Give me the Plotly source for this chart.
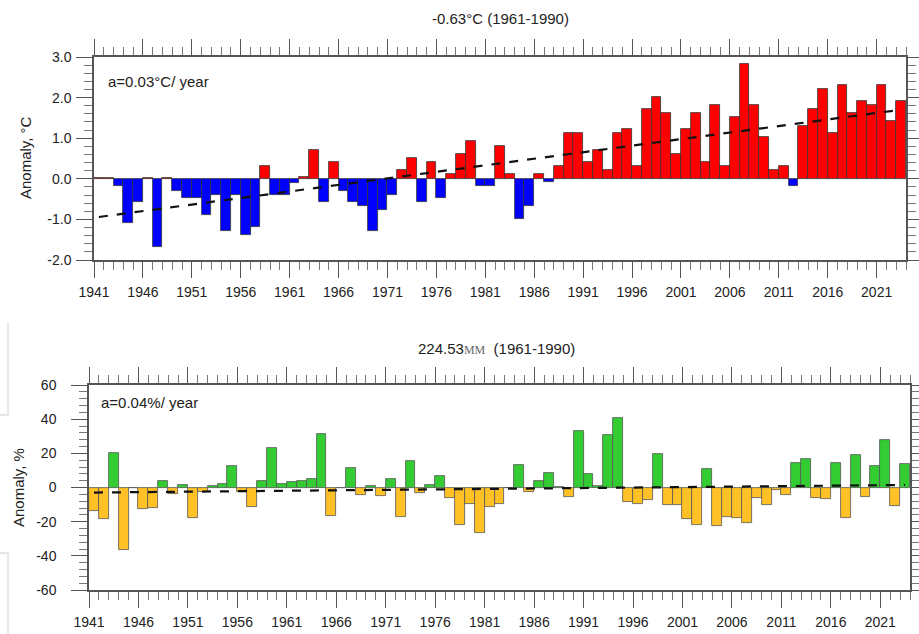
import numpy as np
import plotly.graph_objects as go

W, H = 919, 634

years = list(range(1941, 2024))

temp_anom = [0.02, 0.02, -0.18, -1.08, -0.58, 0.02, -1.69, 0.02, -0.29, -0.48,
             -0.48, -0.88, -0.39, -1.29, -0.39, -1.38, -1.19, 0.32, -0.39, -0.39,
             -0.10, 0.04, 0.72, -0.58, 0.42, -0.29, -0.58, -0.67, -1.29, -0.78,
             -0.39, 0.21, 0.52, -0.58, 0.42, -0.48, 0.11, 0.62, 0.92, -0.18,
             -0.18, 0.82, 0.11, -0.98, -0.67, 0.11, -0.08, 0.32, 1.12, 1.12,
             0.42, 0.71, 0.21, 1.12, 1.22, 0.31, 1.72, 2.02, 1.62, 0.62,
             1.22, 1.63, 0.41, 1.81, 0.31, 1.52, 2.82, 1.81, 1.02, 0.21,
             0.31, -0.18, 1.31, 1.72, 2.22, 1.12, 2.32, 1.62, 1.92, 1.81,
             2.32, 1.42, 1.92]

prec_anom = [-13.7, -18.6, 20.2, -36.8, 0.0, -12.7, -12.1, 4.1, -3.7, 1.4,
             -17.6, -2.9, 0.8, 2.2, 12.5, -2.5, -11.2, 4.1, 22.9, 2.0,
             3.1, 4.1, 4.9, 31.5, -16.4, 0.0, 11.2, -4.5, 1.0, -4.7,
             4.9, -17.0, 15.5, -3.1, 1.4, 6.7, -5.9, -21.7, -9.8, -26.6,
             -11.4, -9.4, -0.5, 13.3, -2.9, 3.7, 8.4, 0.3, -5.7, 33.1,
             8.0, 1.0, 30.5, 40.7, -8.2, -9.4, -7.2, 19.8, -10.0, -10.4,
             -18.6, -21.9, 10.6, -22.3, -17.4, -18.0, -20.9, -6.1, -10.0, -1.2,
             -4.5, 14.5, 16.6, -6.1, -6.8, 14.5, -17.6, 19.2, -5.7, 12.5,
             27.6, -10.8, 13.5]

xtick_years = list(range(1941, 2022, 5))
temp_ticks = [-2.0, -1.0, 0.0, 1.0, 2.0, 3.0]
temp_ticklabels = ["-2.0", "-1.0", "0.0", "1.0", "2.0", "3.0"]
prec_ticks = [-60, -40, -20, 0, 20, 40, 60]
prec_ticklabels = ["-60", "-40", "-20", "0", "20", "40", "60"]
temp_title = "-0.63°C (1961-1990)"
prec_title_value = "224.53"
prec_title_unit = "MM"
prec_title_period = "(1961-1990)"
temp_trend_label = "a=0.03°C/ year"
prec_trend_label = "a=0.04%/ year"

x_centers = np.array(years) + 0.5


def trend(vals):
    coef = np.polyfit(x_centers, np.array(vals), 1)
    return np.polyval(coef, x_centers)


FONT = "Liberation Sans, Arial, sans-serif"
TXT = "#222222"

fig = go.Figure()

fig.add_trace(go.Bar(
    x=x_centers, y=temp_anom, width=1.0,
    marker=dict(color=["#FF0000" if v >= 0 else "#0000FF" for v in temp_anom],
                line=dict(color="#333333", width=0.8)),
    xaxis="x", yaxis="y", showlegend=False))
fig.add_trace(go.Scatter(
    x=x_centers, y=trend(temp_anom), mode="lines",
    line=dict(color="#111111", width=2.2, dash="dash"),
    xaxis="x", yaxis="y", showlegend=False))

fig.add_trace(go.Bar(
    x=x_centers, y=prec_anom, width=1.0,
    marker=dict(color=["#33CC33" if v >= 0 else "#FFC125" for v in prec_anom],
                line=dict(color="#555555", width=0.8)),
    xaxis="x2", yaxis="y2", showlegend=False))
fig.add_trace(go.Scatter(
    x=x_centers, y=trend(prec_anom), mode="lines",
    line=dict(color="#111111", width=2.2, dash="dash"),
    xaxis="x2", yaxis="y2", showlegend=False))


def xax(domain, anchor):
    return dict(domain=domain, anchor=anchor, range=[1941, 2024], automargin=False,
                tickmode="array", tickvals=xtick_years,
                ticktext=[str(y) for y in xtick_years],
                ticks="outside", ticklen=16, tickwidth=1.2, tickcolor="#555555",
                ticklabelstandoff=2,
                minor=dict(ticks="outside", ticklen=8, tickwidth=1, tickcolor="#777777",
                           dtick=1, tick0=1941, showgrid=False),
                showline=True, linecolor="#555555", linewidth=1.5, mirror="ticks",
                showgrid=False, zeroline=False,
                tickfont=dict(family=FONT, size=14, color=TXT))


def yax(domain, anchor, rng, tvals, ttext, mdtick, standoff):
    return dict(domain=domain, anchor=anchor, range=rng, automargin=False,
                tickmode="array", tickvals=tvals, ticktext=ttext,
                ticks="outside", ticklen=16, tickwidth=1.2, tickcolor="#555555",
                ticklabelstandoff=standoff,
                minor=dict(ticks="outside", ticklen=8, tickwidth=1, tickcolor="#777777",
                           dtick=mdtick, tick0=rng[0], showgrid=False),
                showline=True, linecolor="#555555", linewidth=1.5, mirror="ticks",
                showgrid=False, zeroline=False,
                tickfont=dict(family=FONT, size=14, color=TXT))


top_x = [94 / W, 906 / W]
top_y = [1 - 260 / H, 1 - 57 / H]
bot_x = [89 / W, 910 / W]
bot_y = [1 - 590 / H, 1 - 385 / H]

fig.update_layout(
    width=W, height=H,
    margin=dict(l=0, r=0, t=0, b=0, autoexpand=False),
    paper_bgcolor="white", plot_bgcolor="white",
    bargap=0,
    xaxis=xax(top_x, "y"),
    yaxis=yax(top_y, "x", [-2, 3], temp_ticks, temp_ticklabels, 0.2, 2),
    xaxis2=xax(bot_x, "y2"),
    yaxis2=yax(bot_y, "x2", [-60, 60], prec_ticks, prec_ticklabels, 4, 12),
    font=dict(family=FONT, color=TXT),
)


def ann(text, x, y, **kw):
    d = dict(text=text, x=x / W, y=1 - y / H, xref="paper", yref="paper",
             yanchor="middle", xanchor="center", showarrow=False,
             font=dict(size=15, family=FONT, color=TXT))
    d.update(kw)
    return d


annotations = [
    ann(temp_title, 500, 18),
    ann(prec_title_value
        + "<span style='font-family:Liberation Serif, serif; font-size:12px; color:#666666'>"
        + prec_title_unit + "</span>  " + prec_title_period, 497, 348),
    ann("Anomaly, °C", 25, 158, textangle=-90),
    ann("Anomaly, %", 18, 488, textangle=-90),
    ann(temp_trend_label, 106, 82, xanchor="left"),
    ann(prec_trend_label, 99, 402, xanchor="left"),
]
fig.update_layout(annotations=annotations)

shapes = [
    dict(type="line", xref="paper", yref="paper", x0=8 / W, x1=8 / W,
         y0=1 - 322 / H, y1=1 - 415 / H, line=dict(color="#d0d0d0", width=1)),
    dict(type="line", xref="paper", yref="paper", x0=0, x1=8 / W,
         y0=1 - 415 / H, y1=1 - 415 / H, line=dict(color="#d0d0d0", width=1)),
    dict(type="line", xref="paper", yref="paper", x0=8 / W, x1=8 / W,
         y0=1 - 553 / H, y1=0, line=dict(color="#d0d0d0", width=1)),
    dict(type="line", xref="paper", yref="paper", x0=0, x1=8 / W,
         y0=1 - 553 / H, y1=1 - 553 / H, line=dict(color="#d0d0d0", width=1)),
]
fig.update_layout(shapes=shapes)

fig.write_html("out.html", config={"displayModeBar": False},
               post_script="document.body.style.margin='0';document.body.style.overflow='hidden';")
